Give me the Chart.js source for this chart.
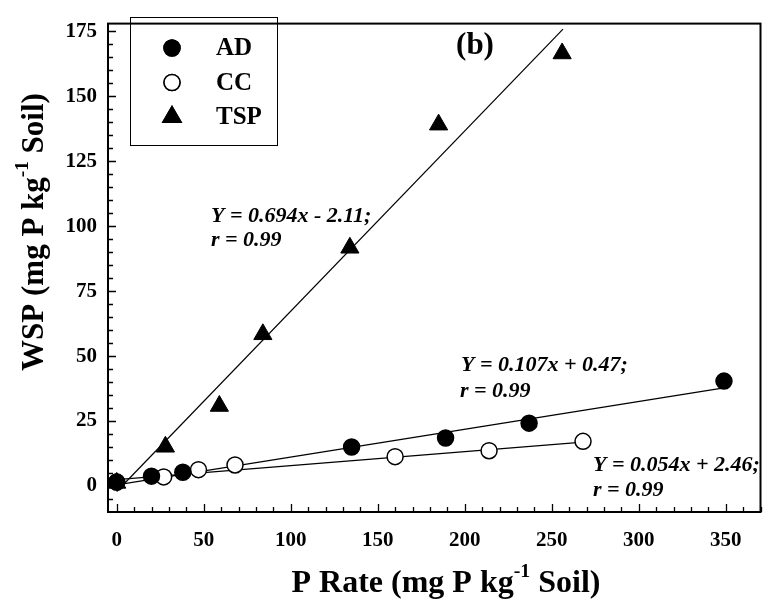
<!DOCTYPE html>
<html>
<head>
<meta charset="utf-8">
<script src="https://cdn.jsdelivr.net/npm/chart.js@4.4.1/dist/chart.umd.min.js"></script>
<style>
  html, body { margin: 0; padding: 0; background: #fff; }
  #wrap { width: 772px; height: 612px; }
</style>
</head>
<body>
<div id="wrap"><canvas id="myChart" width="772" height="612"></canvas></div>
<script>
  'use strict'

  // datos
  var adX = [0, 20, 38, 135, 189, 237, 349]
  var adY = [1.5, 3.8, 5.3, 15.0, 18.5, 24.2, 40.4]
  var ccX = [0, 27, 47, 68, 160, 214, 268]
  var ccY = [1.5, 3.5, 6.3, 8.1, 11.3, 13.6, 17.2]
  var tspX = [0, 28, 59, 84, 134, 185, 256]
  var tspY = [1.2, 15.1, 30.8, 58.4, 91.7, 139.1, 166.5]

  // extremos de las rectas de regresion
  var fitAD = [[0, 0.47], [349, 37.8]]
  var fitCC = [[0, 2.46], [268, 16.9]]
  var fitTSP = [[0, -2.11], [256.5, 175.9]]

  var xTicks = [0, 50, 100, 150, 200, 250, 300, 350]
  var yTicks = [0, 25, 50, 75, 100, 125, 150, 175]

  var serif = "'Liberation Serif', 'Times New Roman', serif"

  function pts (xs, ys) {
    return xs.map(function (x, i) { return { x: x, y: ys[i] } })
  }
  function pairs (p) {
    return p.map(function (v) { return { x: v[0], y: v[1] } })
  }
  function fitLine (p) {
    return {
      type: 'line', data: pairs(p), showLine: true, pointRadius: 0,
      borderColor: '#000', borderWidth: 1.2, order: 3, fill: false
    }
  }

  // texto con superindice
  function drawSup (ctx, parts, size, x, y) {
    var w = 0
    parts.forEach(function (p) {
      ctx.font = 'bold ' + (p.sup ? size * 0.62 : size) + 'px ' + serif
      w += ctx.measureText(p.t).width
    })
    var cx = x - w / 2
    parts.forEach(function (p) {
      ctx.font = 'bold ' + (p.sup ? size * 0.62 : size) + 'px ' + serif
      ctx.fillText(p.t, cx, p.sup ? y - size * 0.38 : y)
      cx += ctx.measureText(p.t).width
    })
  }

  var decor = {
    id: 'decor',
    afterDraw: function (chart) {
      var ctx = chart.ctx
      var a = chart.chartArea
      var xs = chart.scales.x
      var ys = chart.scales.y
      ctx.save()
      ctx.strokeStyle = '#000'
      ctx.fillStyle = '#000'

      // marco
      ctx.lineWidth = 2
      ctx.strokeRect(a.left, a.top, a.right - a.left, a.bottom - a.top)

      // marcas hacia dentro
      ctx.lineWidth = 1.3
      ctx.beginPath()
      for (var v = 0; v <= 370; v += 10) {
        var px = Math.round(xs.getPixelForValue(v)) + 0.5
        var len = v % 50 === 0 ? 8 : 5
        ctx.moveTo(px, a.bottom)
        ctx.lineTo(px, a.bottom - len)
      }
      for (var u = -5; u <= 178; u += 5) {
        var py = Math.round(ys.getPixelForValue(u)) + 0.5
        var l2 = u % 25 === 0 ? 8 : 5
        ctx.moveTo(a.left, py)
        ctx.lineTo(a.left + l2, py)
      }
      ctx.stroke()

      // leyenda
      ctx.lineWidth = 1
      ctx.strokeRect(130.5, 17.5, 147, 128)
      var rows = [
        { name: 'AD', style: 'circle', fill: '#000', r: 8 },
        { name: 'CC', style: 'circle', fill: '#fff', r: 8 },
        { name: 'TSP', style: 'triangle', fill: '#000', r: 10.5 }
      ]
      rows.forEach(function (row, i) {
        var ry = 48 + i * 34.5
        ctx.fillStyle = row.fill
        ctx.lineWidth = 1.5
        Chart.helpers.drawPoint(ctx, { pointStyle: row.style, radius: row.r, borderWidth: 1.5 }, 172, ry)
        ctx.fill()
        ctx.stroke()
        ctx.fillStyle = '#000'
        ctx.font = 'bold 25px ' + serif
        ctx.textAlign = 'left'
        ctx.textBaseline = 'middle'
        ctx.fillText(row.name, 216, ry + 1)
      })

      // rotulo del panel
      ctx.font = 'bold 31px ' + serif
      ctx.textAlign = 'center'
      ctx.fillText('(b)', 475, 46)

      // ecuaciones
      ctx.font = 'italic bold 22px ' + serif
      ctx.textAlign = 'left'
      ctx.fillText('Y = 0.694x - 2.11;', 211, 216)
      ctx.fillText('r = 0.99', 211, 240)
      ctx.fillText('Y = 0.107x + 0.47;', 461, 365)
      ctx.fillText('r = 0.99', 460, 391)
      ctx.fillText('Y = 0.054x + 2.46;', 593, 465)
      ctx.fillText('r = 0.99', 593, 490)

      // titulos de ejes
      ctx.textAlign = 'left'
      ctx.textBaseline = 'middle'
      drawSup(ctx, [{ t: 'P Rate (mg P kg' }, { t: '-1', sup: true }, { t: ' Soil)' }], 32, 446, 584)
      ctx.save()
      ctx.translate(35, 232)
      ctx.rotate(-Math.PI / 2)
      drawSup(ctx, [{ t: 'WSP (mg P kg' }, { t: '-1', sup: true }, { t: ' Soil)' }], 31, 0, 0)
      ctx.restore()

      ctx.restore()
    }
  }

  var ctx = document.getElementById('myChart')
  new Chart(ctx, {
    type: 'scatter',
    data: {
      datasets: [
        {
          label: 'TSP', data: pts(tspX, tspY), pointStyle: 'triangle', pointRadius: 10.5,
          backgroundColor: '#000', borderColor: '#000', borderWidth: 1, order: 1
        },
        {
          label: 'AD', data: pts(adX, adY), pointStyle: 'circle', pointRadius: 8,
          backgroundColor: '#000', borderColor: '#000', borderWidth: 1.5, order: 1
        },
        {
          label: 'CC', data: pts(ccX, ccY), pointStyle: 'circle', pointRadius: 8,
          backgroundColor: '#fff', borderColor: '#000', borderWidth: 1.5, order: 1
        },
        fitLine(fitAD),
        fitLine(fitCC),
        fitLine(fitTSP)
      ]
    },
    options: {
      responsive: false,
      animation: false,
      events: [],
      layout: { padding: { top: 13, right: 2, left: 0, bottom: 0 } },
      plugins: { legend: { display: false }, tooltip: { enabled: false } },
      scales: {
        x: {
          type: 'linear', min: -5, max: 370,
          grid: { display: false, drawTicks: false },
          border: { display: false },
          afterBuildTicks: function (s) { s.ticks = xTicks.map(function (v) { return { value: v } }) },
          afterFit: function (s) { s.height = 100 },
          ticks: { color: '#000', padding: 16, maxRotation: 0, font: { family: serif, size: 21, weight: 'bold' } }
        },
        y: {
          type: 'linear', min: -10, max: 178,
          grid: { display: false, drawTicks: false },
          border: { display: false },
          afterBuildTicks: function (s) { s.ticks = yTicks.map(function (v) { return { value: v } }) },
          afterFit: function (s) { s.width = 108 },
          ticks: { color: '#000', padding: 11, font: { family: serif, size: 21, weight: 'bold' } }
        }
      }
    },
    plugins: [decor]
  })
</script>
</body>
</html>
